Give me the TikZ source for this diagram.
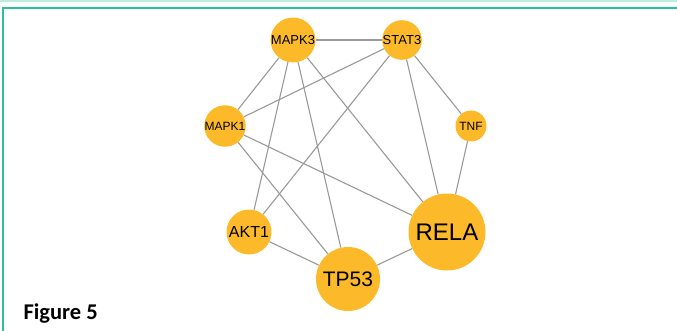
\documentclass[tikz,border=0pt]{standalone}
\usepackage{fontspec}
\setmainfont{Liberation Sans}
\newfontfamily\capfont{Carlito}
\usetikzlibrary{positioning}

\definecolor{geneyellow}{HTML}{FCBA2B}
\definecolor{linkgray}{HTML}{999999}
\definecolor{frameteal}{HTML}{2DBFA5}
\definecolor{bandteal}{HTML}{BCEDE5}

\newcommand{\fs}[1]{\fontsize{#1}{#1}\selectfont}

\begin{document}
\begin{tikzpicture}[x=1pt, y=-1pt,
        gene/.style={circle, fill=geneyellow, inner sep=0pt, text=black},
        link/.style={draw=linkgray, line width=1.1pt}]
        \useasboundingbox (0,0) rectangle (677,331);
        % frame
        \fill[bandteal] (0,0) rectangle (677,2.5);
        \draw[frameteal, line width=1.6pt] (3,331) -- (3,8) -- (677,8);

        % genes
        \node[gene, minimum size=38pt, font=\fs{13}] (MAPK3) at (293,40) {MAPK3};
        \node[gene, minimum size=38pt, font=\fs{13}] (STAT3) at (402,40) {STAT3};
        \node[gene, minimum size=31pt, font=\fs{12}] (MAPK1) at (225,126) {MAPK1};
        \node[gene, minimum size=31pt, font=\fs{12}] (TNF) at (471,126) {TNF};
        \node[gene, minimum size=45pt, font=\fs{16}] (AKT1) at (249,232) {AKT1};
        \node[gene, minimum size=77pt, font=\fs{24}] (RELA) at (447,232) {RELA};
        \node[gene, minimum size=64pt, font=\fs{21}] (TP53) at (348,279) {TP53};

        \path[link]
        (MAPK3) edge (STAT3)
        edge (MAPK1)
        edge (AKT1)
        edge (TP53)
        edge (RELA)
        (STAT3) edge (MAPK1)
        edge (AKT1)
        edge (RELA)
        edge (TNF)
        (MAPK1) edge (RELA)
        edge (TP53)
        (TNF) edge (RELA)
        (AKT1) edge (TP53)
        (TP53) edge (RELA);

        \node[anchor=base west, font=\capfont\bfseries\fs{22.5}] (caption) at (20,319) {Figure 5};
    \end{tikzpicture}
\end{document}
